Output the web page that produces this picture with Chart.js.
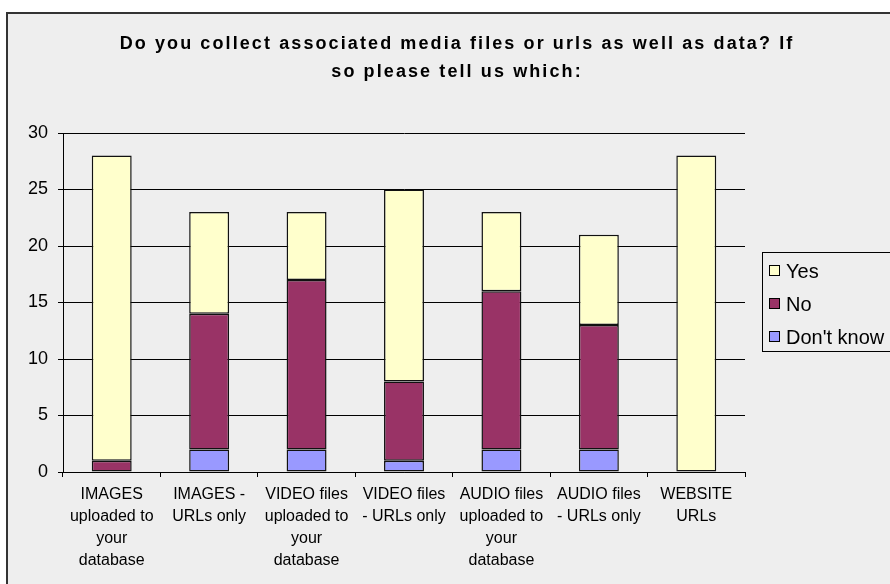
<!DOCTYPE html>
<html>
<head>
<meta charset="utf-8">
<script src="https://cdn.jsdelivr.net/npm/chart.js@4"></script>
<style>
  body { margin: 0; background: #fff; }
  #frame { position: absolute; left: 6px; top: 12px; width: 900px; height: 600px;
           border: 2px solid #333; background: #eeeeee; }
  #wrap { position: absolute; left: 0; top: 0; width: 890px; height: 584px; }
</style>
</head>
<body>
<div id="frame"></div>
<div id="wrap"><canvas id="chart" width="890" height="584"></canvas></div>
<script>
const categories = [
  ['IMAGES', 'uploaded to', 'your', 'database'],
  ['IMAGES -', 'URLs only'],
  ['VIDEO files', 'uploaded to', 'your', 'database'],
  ['VIDEO files', '- URLs only'],
  ['AUDIO files', 'uploaded to', 'your', 'database'],
  ['AUDIO files', '- URLs only'],
  ['WEBSITE', 'URLs']
];
const yesValues = [27, 9, 6, 17, 7, 8, 28];
const noValues = [1, 12, 15, 7, 14, 11, 0];
const dontKnowValues = [0, 2, 2, 1, 2, 2, 0];
const titleLines = ['Do you collect associated media files or urls as well as data? If',
                    'so please tell us which:'];

const font = 'Liberation Sans, Arial, sans-serif';

// spaced-out bold title, drawn by hand since the title plugin has no letter spacing
const spacedTitle = {
  id: 'spacedTitle',
  afterDraw(chart) {
    const ctx = chart.ctx;
    ctx.save();
    ctx.font = 'bold 18px ' + font;
    ctx.letterSpacing = '2.1px';
    ctx.fillStyle = '#000';
    ctx.textAlign = 'center';
    ctx.textBaseline = 'alphabetic';
    titleLines.forEach((line, i) => ctx.fillText(line, 457, 49 + i * 28));
    ctx.restore();
  }
};

// legend in a box on the right, like the original
const boxLegend = {
  id: 'boxLegend',
  afterDraw(chart) {
    const ctx = chart.ctx;
    ctx.save();
    ctx.strokeStyle = '#000';
    ctx.lineWidth = 1;
    ctx.strokeRect(762.5, 252.5, 200, 99);
    const items = chart.data.datasets.slice().reverse();
    ctx.font = '20px ' + font;
    ctx.textBaseline = 'middle';
    items.forEach((ds, i) => {
      const y = 271 + i * 33;
      ctx.fillStyle = ds.backgroundColor;
      ctx.fillRect(769.5, y - 5.5, 10, 10);
      ctx.strokeRect(769.5, y - 5.5, 10, 10);
      ctx.fillStyle = '#000';
      ctx.fillText(ds.label, 786, y + 1);
    });
    ctx.restore();
  }
};

new Chart(document.getElementById('chart'), {
  type: 'bar',
  data: {
    labels: categories,
    datasets: [{
      label: "Don't know",
      data: dontKnowValues,
      backgroundColor: '#9999FF'
    }, {
      label: 'No',
      data: noValues,
      backgroundColor: '#993366'
    }, {
      label: 'Yes',
      data: yesValues,
      backgroundColor: '#FFFFCC'
    }]
  },
  options: {
    responsive: false,
    animation: false,
    layout: { padding: { left: 0, right: 0, top: 133, bottom: 5 } },
    datasets: {
      bar: {
        borderColor: '#111',
        borderWidth: 1.5,
        borderSkipped: false,
        barPercentage: 0.41,
        categoryPercentage: 1
      }
    },
    plugins: {
      legend: { display: false },
      tooltip: { enabled: false },
      title: { display: false }
    },
    scales: {
      x: {
        stacked: true,
        offset: true,
        grid: { offset: true, drawOnChartArea: false, color: '#000', tickLength: 5 },
        border: { display: true, color: '#000', width: 1 },
        ticks: {
          color: '#000',
          font: { family: font, size: 16, lineHeight: 1.375 },
          maxRotation: 0,
          autoSkip: false,
          padding: 7
        }
      },
      y: {
        stacked: true,
        min: 0,
        max: 30,
        afterFit(scale) { scale.width = 63; },
        grid: { color: '#000', tickLength: 5 },
        border: { display: true, color: '#000', width: 1 },
        ticks: {
          stepSize: 5,
          color: '#000',
          font: { family: font, size: 18 },
          padding: 10
        }
      },
      y2: {
        position: 'right',
        display: true,
        afterFit(scale) { scale.width = 145; },
        grid: { display: false },
        border: { display: false },
        ticks: { display: false }
      }
    }
  },
  plugins: [spacedTitle, boxLegend]
});
</script>
</body>
</html>
